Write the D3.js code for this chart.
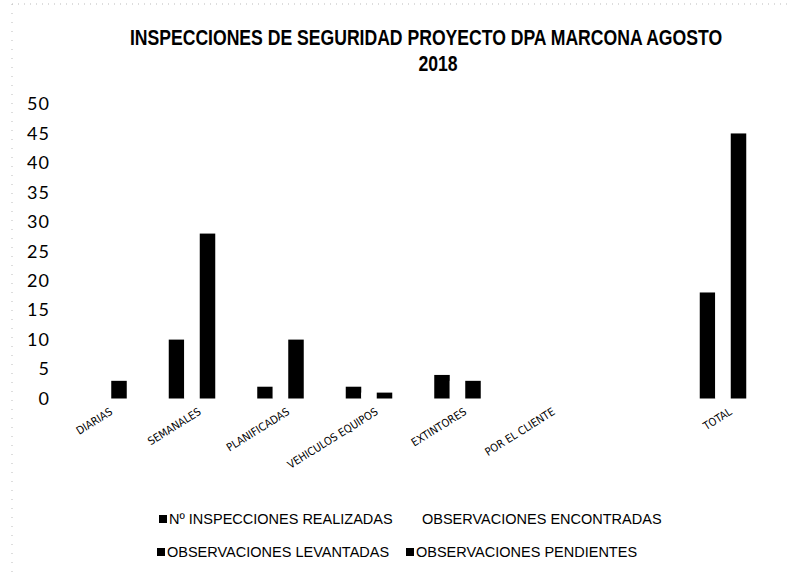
<!DOCTYPE html>
<html>
<head>
<meta charset="utf-8">
<script src="https://cdn.jsdelivr.net/npm/d3@7"></script>
<style>
  html, body { margin: 0; padding: 0; background: #fff; }
  svg { display: block; }
</style>
</head>
<body>
<svg id="chart" width="788" height="574"></svg>
<script>
// Categories (the seventh slot is an empty spacer before TOTAL)
const categories = ["DIARIAS", "SEMANALES", "PLANIFICADAS", "VEHICULOS EQUIPOS", "EXTINTORES", "POR EL CLIENTE", "", "TOTAL"];

// Series names, in legend order
const seriesNames = ["Nº INSPECCIONES REALIZADAS", "OBSERVACIONES ENCONTRADAS", "OBSERVACIONES LEVANTADAS", "OBSERVACIONES PENDIENTES"];

// Series values per category
const inspecciones = [0, 10, 2, 2, 4, 0, null, 18];
const encontradas  = [3, 28, 10, 1, 3, 0, null, 45];
const levantadas   = [3, 28, 10, 1, 3, 0, null, 45];
const pendientes   = [0, 0, 0, 0, 0, 0, null, 0];

// Value axis ticks
const yTicks = [0, 5, 10, 15, 20, 25, 30, 35, 40, 45, 50];

const seriesValues = [inspecciones, encontradas, levantadas, pendientes];
const seriesColors = ["#000000", "#ffffff", "#000000", "#000000"];

const svg = d3.select("#chart");
const W = 788, H = 574;

// Faint dotted chart-area border
svg.append("line").attr("x1", 12).attr("x2", W).attr("y1", 4).attr("y2", 4)
  .attr("stroke", "#bbb").attr("stroke-width", 1).attr("stroke-dasharray", "1,5");
svg.append("line").attr("x1", 12).attr("x2", 12).attr("y1", 4).attr("y2", H)
  .attr("stroke", "#bbb").attr("stroke-width", 1).attr("stroke-dasharray", "1,8");

// Title, bold and horizontally condensed
const titleFont = "'Liberation Sans', Arial, sans-serif";
const t1 = svg.append("g").attr("transform", "translate(426,45) scale(0.8,1)");
t1.append("text")
  .attr("text-anchor", "middle")
  .style("font-family", titleFont)
  .style("font-weight", "bold")
  .style("font-size", "22px")
  .attr("fill", "#000")
  .text("INSPECCIONES DE SEGURIDAD PROYECTO DPA MARCONA AGOSTO");
const t2 = svg.append("g").attr("transform", "translate(438,71) scale(0.8,1)");
t2.append("text")
  .attr("text-anchor", "middle")
  .style("font-family", titleFont)
  .style("font-weight", "bold")
  .style("font-size", "22px")
  .attr("fill", "#000")
  .text("2018");

// Scales
const x0 = d3.scaleBand().domain(categories).range([67, 775]).padding(0);
const groupW = 62;
const x1 = d3.scaleBand().domain(d3.range(seriesNames.length))
  .range([(x0.bandwidth() - groupW) / 2, (x0.bandwidth() + groupW) / 2]).padding(0);
const y = d3.scaleLinear().domain([0, 50]).range([398.5, 104]);

// Value axis (labels only)
const yAxis = d3.axisLeft(y).tickValues(yTicks).tickSize(0).tickPadding(0).tickFormat(d3.format("d"));
const yg = svg.append("g").attr("transform", "translate(50,0)").call(yAxis);
yg.select(".domain").remove();
yg.selectAll("text")
  .style("font-family", "Lato, 'Open Sans', sans-serif")
  .style("font-size", "18px")
  .style("letter-spacing", "1px")
  .attr("fill", "#000");

// Bars
const groups = svg.append("g").selectAll("g")
  .data(categories.map((c, i) => ({ c, i })))
  .join("g")
  .attr("transform", d => `translate(${x0(d.c)},0)`);

groups.selectAll("rect")
  .data(d => seriesValues.map((vals, s) => ({ s, v: vals[d.i] })).filter(e => e.v != null && e.v > 0))
  .join("rect")
  .attr("x", e => x1(e.s))
  .attr("width", x1.bandwidth())
  .attr("y", e => y(e.v))
  .attr("height", e => y(0) - y(e.v))
  .attr("fill", e => seriesColors[e.s]);

// Category labels, rotated, in a narrow face
const xAxis = d3.axisBottom(x0).tickSize(0).tickPadding(0);
const xg = svg.append("g").attr("transform", `translate(0,${y(0) + 12})`).call(xAxis);
xg.select(".domain").remove();
xg.selectAll("text")
  .attr("text-anchor", "end")
  .attr("y", 0)
  .attr("dy", "0.35em")
  .attr("transform", "rotate(-32)")
  .style("font-family", "'DejaVu Sans Condensed', 'DejaVu Sans', sans-serif")
  .style("font-stretch", "condensed")
  .style("font-size", "11px")
  .attr("fill", "#000");

// Legend
const legendItems = [
  { s: 0, x: 159, y: 519 },
  { s: 1, x: 412, y: 519 },
  { s: 2, x: 157, y: 552 },
  { s: 3, x: 406, y: 552 }
];
const lg = svg.append("g");
legendItems.forEach(it => {
  lg.append("rect").attr("x", it.x).attr("y", it.y - 4).attr("width", 8).attr("height", 8)
    .attr("fill", seriesColors[it.s]);
  lg.append("text").attr("x", it.x + 10).attr("y", it.y).attr("dy", "0.35em")
    .style("font-family", "'Liberation Sans', Arial, sans-serif")
    .style("font-size", "14.5px")
    .attr("fill", "#000")
    .text(seriesNames[it.s]);
});
</script>
</body>
</html>
